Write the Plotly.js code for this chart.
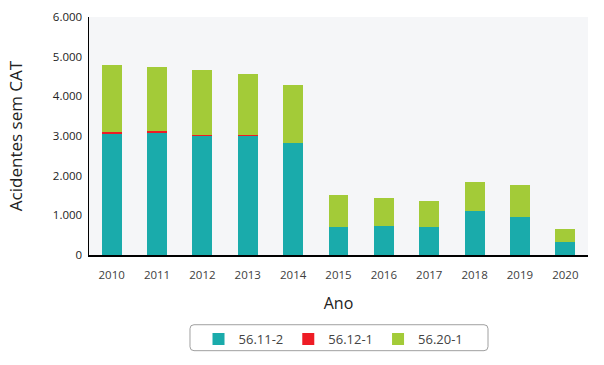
<!DOCTYPE html>
<html>
<head>
<meta charset="utf-8">
<script src="https://cdn.plot.ly/plotly-3.0.1.min.js"></script>
<style>html,body{margin:0;padding:0;background:#fff;}#chart{width:604px;height:365px;}</style>
</head>
<body>
<div id="chart"></div>
<script>
const years = ['2010','2011','2012','2013','2014','2015','2016','2017','2018','2019','2020'];
const s5611 = [3040, 3070, 3000, 2990, 2830, 712, 737, 712, 1114, 963, 334];
const s5612 = [60, 55, 30, 30, 0, 0, 0, 0, 0, 0, 0];
const s5620 = [1690, 1620, 1630, 1540, 1450, 805, 703, 653, 730, 806, 328];
const seriesNames = ['56.11-2', '56.12-1', '56.20-1'];
const colors = ['#1aabab', '#ee1c25', '#a3cb38'];

const font = "'Open Sans', 'Noto Sans', sans-serif";
const data = [s5611, s5612, s5620].map((v, i) => ({
  type: 'bar', x: years, y: v, name: seriesNames[i],
  marker: {color: colors[i], line: {width: 0}}
}));

// rounded legend box in paper coords
const x0 = 0.2024, x1 = 0.7996, y0 = -0.402, y1 = -0.293;
const rx = 4/499, ry = 4/239;
const path = `M ${x0+rx},${y1} L ${x1-rx},${y1} Q ${x1},${y1} ${x1},${y1-ry} L ${x1},${y0+ry} Q ${x1},${y0} ${x1-rx},${y0} L ${x0+rx},${y0} Q ${x0},${y0} ${x0},${y0+ry} L ${x0},${y1-ry} Q ${x0},${y1} ${x0+rx},${y1} Z`;

const layout = {
  width: 604, height: 365,
  margin: {l: 89, r: 16, t: 17, b: 109},
  barmode: 'stack', bargap: 0.56,
  paper_bgcolor: '#ffffff', plot_bgcolor: '#f5f6f8',
  font: {family: font, color: '#333333'},
  showlegend: true,
  xaxis: {
    type: 'category', showline: true, linecolor: '#000', linewidth: 1.5,
    ticks: '', ticklabelstandoff: 9, tickfont: {size: 11.5, color: '#404040'},
    title: {text: 'Ano', font: {size: 16, color: '#222'}, standoff: 16}
  },
  yaxis: {
    range: [0, 6000], tickvals: [0,1000,2000,3000,4000,5000,6000],
    ticktext: ['0','1.000','2.000','3.000','4.000','5.000','6.000'],
    showgrid: false, zeroline: false, showline: true, linecolor: '#000', linewidth: 1.5,
    ticks: '', ticklabelstandoff: 3, tickfont: {size: 11.5, color: '#222'},
    title: {text: 'Acidentes sem CAT', font: {size: 17, color: '#222'}, standoff: 26}
  },
  legend: {
    orientation: 'h', x: 0.49, xanchor: 'center', y: -0.3475, yanchor: 'middle',
    traceorder: 'normal',
    font: {size: 13, color: '#444'}, bgcolor: 'rgba(0,0,0,0)', itemwidth: 30
  },
  shapes: [{type: 'path', xref: 'paper', yref: 'paper', path: path,
    line: {color: '#a0a0a0', width: 1}, fillcolor: 'rgba(0,0,0,0)'}]
};
Plotly.newPlot('chart', data, layout, {displayModeBar: false, staticPlot: true});
</script>
</body>
</html>
